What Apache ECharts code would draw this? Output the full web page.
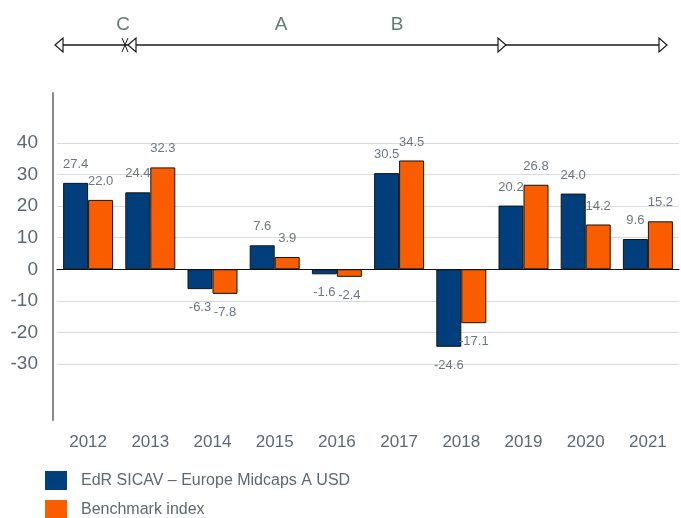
<!DOCTYPE html>
<html>
<head>
<meta charset="utf-8">
<script src="https://cdn.jsdelivr.net/npm/echarts@6/dist/echarts.min.js"></script>
<style>
	html, body { margin: 0; padding: 0; background: #fff; }
	#main { width: 681px; height: 518px; }
</style>
</head>
<body>
<div id="main"></div>
<script>
// yearly performance, fund vs benchmark
var years = ['2012', '2013', '2014', '2015', '2016', '2017', '2018', '2019', '2020', '2021']
var fundValues = [27.4, 24.4, -6.3, 7.6, -1.6, 30.5, -24.6, 20.2, 24.0, 9.6]
var benchValues = [22.0, 32.3, -7.8, 3.9, -2.4, 34.5, -17.1, 26.8, 14.2, 15.2]
var yTicks = [-30, -20, -10, 0, 10, 20, 30, 40]
var seriesNames = ['EdR SICAV – Europe Midcaps A USD', 'Benchmark index']

var textColor = '#5d6875'
var font = 'Liberation Sans, Arial, sans-serif'

// label above for positive bars, below for negative ones
function toItems (values) {
	return values.map(function (v) {
		return {
			value: v,
			label: { position: v < 0 ? 'bottom' : 'top' }
		}
	})
}

function barSeries (name, values, color) {
	return {
		name: name,
		type: 'bar',
		barWidth: 25,
		barGap: '0%',
		data: toItems(values),
		itemStyle: {
			color: color,
			borderColor: '#141414',
			borderWidth: 1
		},
		label: {
			show: true,
			distance: 12,
			color: '#6b7582',
			fontSize: 13,
			fontFamily: font,
			formatter: function (p) {
				return p.value.toFixed(1)
			}
		}
	}
}

// one legend per row, stacked
function legendRow (name, top) {
	return {
		left: 45,
		top: top,
		padding: 0,
		itemWidth: 22,
		itemHeight: 19,
		icon: 'rect',
		itemStyle: { borderWidth: 0 },
		textStyle: { color: textColor, fontSize: 16, fontFamily: font, padding: [0, 0, 0, 9] },
		data: [name]
	}
}

// timeline decoration above the chart
function arrow (tipX, dir) {
	var baseX = tipX - dir * 8
	return {
		type: 'polygon',
		shape: { points: [[tipX, 45], [baseX, 38], [baseX, 52]] },
		style: { fill: '#fff', stroke: '#1a1a1a', lineWidth: 1.2 },
		z: 10
	}
}
function letter (txt, x) {
	return {
		type: 'text',
		x: x,
		y: 25,
		style: {
			text: txt,
			fill: '#5e7c74',
			font: '19px ' + font,
			textAlign: 'center',
			textVerticalAlign: 'middle'
		}
	}
}

var option = {
	animation: false,
	grid: {
		left: 57,
		right: 2,
		top: 93,
		bottom: 98
	},
	legend: [
		legendRow(seriesNames[0], 471),
		legendRow(seriesNames[1], 500)
	],
	xAxis: [
		{
			type: 'category',
			data: years,
			position: 'bottom',
			axisLine: { show: false, onZero: false },
			axisTick: { show: false },
			axisLabel: { color: textColor, fontSize: 17, fontFamily: font, margin: 14 }
		},
		{
			// zero line
			type: 'category',
			data: years,
			position: 'bottom',
			axisLine: { show: true, onZero: true, lineStyle: { color: '#111', width: 1 } },
			axisTick: { show: false },
			axisLabel: { show: false }
		}
	],
	yAxis: {
		type: 'value',
		min: -47.8,
		max: 55.9,
		offset: 4,
		axisLine: { show: true, lineStyle: { color: '#888', width: 2 } },
		axisTick: { show: false, customValues: yTicks },
		splitLine: { show: true, customValues: yTicks, lineStyle: { color: '#dadada', width: 1 } },
		axisLabel: {
			customValues: yTicks,
			color: textColor,
			fontSize: 19,
			fontFamily: font,
			margin: 15
		}
	},
	graphic: [
		{
			type: 'line',
			shape: { x1: 56, y1: 45, x2: 666, y2: 45 },
			style: { stroke: '#1a1a1a', lineWidth: 1.5 }
		},
		arrow(55, -1),
		{
			type: 'line',
			shape: { x1: 122, y1: 38, x2: 128, y2: 52 },
			style: { stroke: '#1a1a1a', lineWidth: 1 },
			z: 11
		},
		{
			type: 'line',
			shape: { x1: 128, y1: 38, x2: 122, y2: 52 },
			style: { stroke: '#1a1a1a', lineWidth: 1 },
			z: 11
		},
		arrow(128, -1),
		arrow(506, 1),
		arrow(667, 1),
		letter('C', 123),
		letter('A', 281),
		letter('B', 397)
	],
	series: [
		barSeries(seriesNames[0], fundValues, '#003f7b'),
		barSeries(seriesNames[1], benchValues, '#fa5c00')
	]
}

var myChart = echarts.init(document.getElementById('main'))
myChart.setOption(option)
</script>
</body>
</html>
